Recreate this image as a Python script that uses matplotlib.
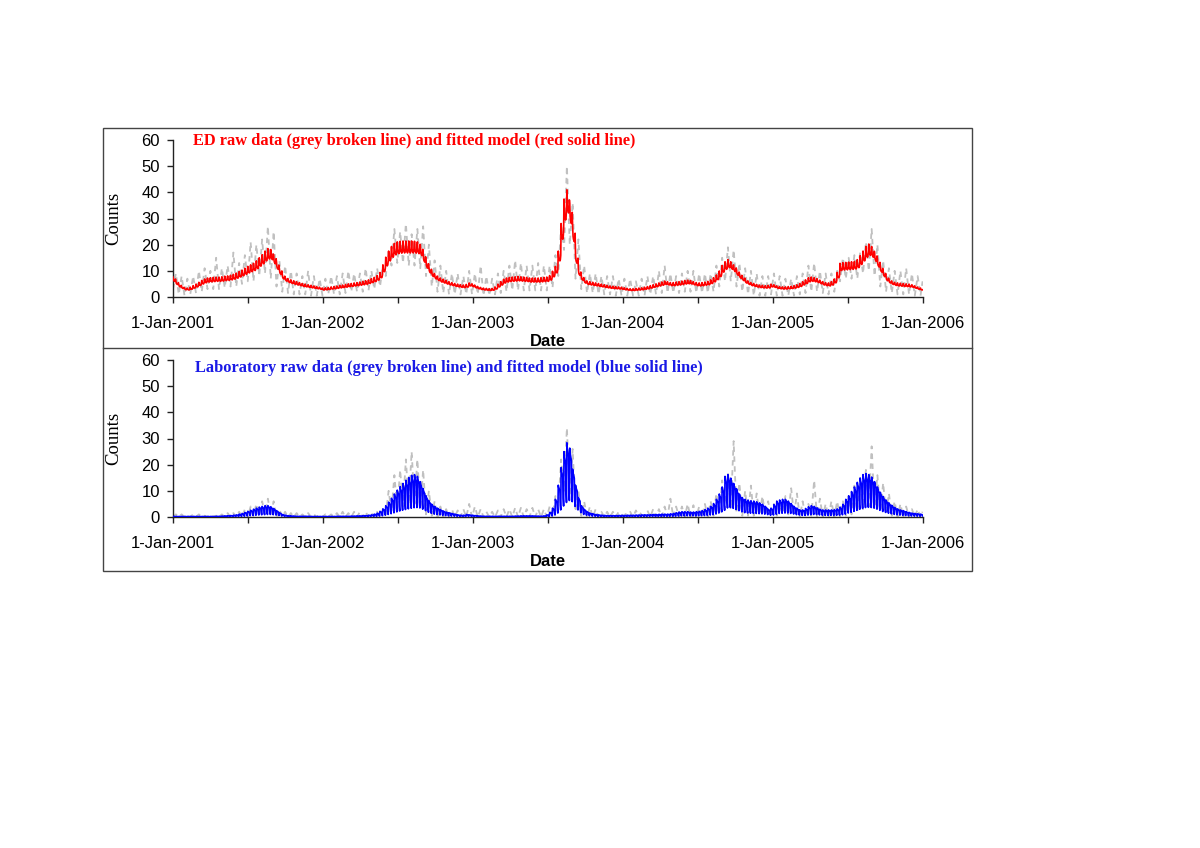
import numpy as np
import matplotlib
matplotlib.use("Agg")
import matplotlib.pyplot as plt
import matplotlib.dates as mdates
from matplotlib.patches import Rectangle
from matplotlib.lines import Line2D

# ---------------- data ----------------
# Fitted model: weekly level (weeks starting Mon 1-Jan-2001) x day-of-week factor (Mon..Sun)
ed_level_2001 = [6.5, 5.2, 4.2, 3.5, 3.0, 2.9, 3.2, 3.7, 4.2, 4.8, 5.4, 5.9, 6.2,
                 6.3, 6.4, 6.5, 6.5, 6.6, 6.8, 6.9, 7.1, 7.4, 7.8, 8.3, 8.8, 9.4,
                 10.0, 10.5, 11.0, 11.8, 12.8, 13.8, 15.0, 15.8, 15.5, 13.8, 11.5, 9.4, 7.5,
                 6.6, 6.0, 5.6, 5.3, 5.0, 4.7, 4.4, 4.2, 4.0, 3.8, 3.6, 3.4, 3.2]
ed_level_2002 = [2.9, 3.0, 3.1, 3.3, 3.4, 3.6, 3.8, 3.9, 4.1, 4.3, 4.4, 4.6, 4.7,
                 4.9, 5.1, 5.3, 5.6, 6.0, 6.4, 7.0, 8.0, 10.5, 13.0, 15.0, 16.5, 17.5,
                 18.0, 18.2, 18.3, 18.3, 18.3, 18.3, 18.2, 18.0, 17.2, 14.5, 12.0, 10.0, 8.5,
                 7.5, 6.8, 6.2, 5.8, 5.4, 5.0, 4.7, 4.4, 4.2, 4.0, 3.9, 4.1, 4.6]
ed_level_2003 = [4.3, 3.8, 3.4, 3.1, 2.9, 2.8, 2.7, 2.8, 3.3, 4.2, 5.0, 5.8, 6.2,
                 6.4, 6.5, 6.6, 6.7, 6.6, 6.5, 6.4, 6.2, 6.2, 6.2, 6.2, 6.3, 6.4,
                 6.5, 7.0, 8.4, 10.0, 15.0, 24.0, 32.0, 35.0, 30.5, 23.0, 14.0, 9.0, 7.0,
                 5.8, 5.2, 5.0, 4.8, 4.6, 4.4, 4.2, 4.0, 3.8, 3.6, 3.5, 3.4, 3.3]
ed_level_2004 = [3.2, 3.0, 2.8, 2.7, 2.7, 2.8, 2.9, 3.0, 3.2, 3.4, 3.7, 4.0, 4.3,
                 4.6, 4.9, 5.2, 5.0, 4.7, 4.7, 4.9, 5.0, 5.2, 5.4, 5.5, 5.4, 5.0,
                 4.7, 4.6, 4.7, 4.9, 5.1, 5.6, 6.3, 7.2, 8.5, 10.3, 11.5, 12.2, 11.5,
                 10.5, 9.0, 7.8, 6.8, 5.8, 5.2, 4.7, 4.4, 4.1, 3.9, 3.8, 3.7, 3.8, 4.2]
ed_level_2005 = [4.0, 3.6, 3.4, 3.3, 3.3, 3.4, 3.5, 3.7, 4.0, 4.4, 5.0, 5.6, 6.3,
                 6.5, 6.3, 6.0, 5.5, 5.0, 4.7, 4.6, 5.0, 5.9, 8.0, 11.0, 11.2, 11.3,
                 11.4, 11.5, 11.6, 12.2, 13.5, 15.0, 16.5, 17.3, 16.5, 14.8, 12.5, 10.3, 8.5,
                 6.8, 5.8, 5.2, 4.8, 4.6, 4.5, 4.4, 4.3, 4.2, 4.0, 3.6, 3.2, 2.9]
ed_dow = [1.17, 1.01, 0.96, 0.94, 0.92, 0.95, 1.06]

lab_level_2001 = [0.15, 0.15, 0.15, 0.15, 0.15, 0.15, 0.15, 0.15, 0.15, 0.15, 0.15, 0.15, 0.15,
                  0.15, 0.15, 0.2, 0.2, 0.25, 0.3, 0.35, 0.4, 0.5, 0.6, 0.8, 1.0, 1.3,
                  1.6, 1.9, 2.2, 2.5, 2.8, 3.0, 3.2, 3.2, 2.9, 2.4, 1.8, 1.2, 0.7,
                  0.5, 0.35, 0.3, 0.25, 0.2, 0.2, 0.2, 0.2, 0.2, 0.15, 0.15, 0.15, 0.15]
lab_level_2002 = [0.15, 0.15, 0.15, 0.15, 0.15, 0.2, 0.2, 0.2, 0.2, 0.2, 0.25, 0.25, 0.3,
                  0.3, 0.35, 0.4, 0.5, 0.6, 0.8, 1.1, 1.6, 2.3, 3.2, 4.2, 5.3, 6.5,
                  7.6, 8.6, 9.5, 10.4, 11.2, 11.8, 12.0, 11.5, 10.0, 8.0, 6.0, 4.6, 3.6,
                  3.0, 2.5, 2.1, 1.7, 1.4, 1.2, 1.0, 0.8, 0.6, 0.5, 0.5, 0.7, 0.6]
lab_level_2003 = [0.5, 0.4, 0.3, 0.25, 0.2, 0.2, 0.2, 0.2, 0.2, 0.2, 0.2, 0.2, 0.2,
                  0.2, 0.2, 0.25, 0.25, 0.3, 0.3, 0.3, 0.3, 0.3, 0.25, 0.25, 0.25, 0.3,
                  0.6, 1.3, 2.5, 5.0, 9.0, 14.0, 18.5, 21.0, 19.5, 13.5, 9.0, 5.5, 3.2,
                  2.2, 1.5, 1.1, 0.9, 0.7, 0.6, 0.5, 0.45, 0.4, 0.4, 0.4, 0.4, 0.45]
lab_level_2004 = [0.45, 0.45, 0.5, 0.5, 0.5, 0.55, 0.55, 0.6, 0.6, 0.6, 0.65, 0.7, 0.7,
                  0.75, 0.8, 0.8, 0.8, 0.9, 1.0, 1.2, 1.4, 1.5, 1.5, 1.5, 1.4, 1.4,
                  1.5, 1.6, 1.8, 2.1, 2.5, 3.0, 3.8, 5.0, 6.5, 8.5, 11.5, 12.0, 11.0,
                  9.5, 8.0, 6.5, 5.5, 5.0, 4.8, 4.6, 4.5, 4.3, 4.0, 3.6, 3.0, 2.2, 2.5]
lab_level_2005 = [3.5, 4.5, 4.8, 5.0, 5.0, 4.5, 3.8, 3.0, 2.5, 2.0, 2.0, 2.4, 2.9,
                  3.2, 3.0, 2.6, 2.2, 2.0, 2.0, 2.0, 2.0, 2.1, 2.3, 2.8, 3.6, 5.0,
                  6.0, 7.2, 8.5, 9.8, 11.0, 12.0, 12.3, 12.0, 11.3, 10.0, 8.5, 7.0, 5.8,
                  4.8, 4.0, 3.3, 2.7, 2.3, 2.0, 1.8, 1.5, 1.3, 1.1, 1.0, 0.9, 0.8]
lab_dow = [1.35, 1.25, 1.2, 1.15, 1.1, 0.5, 0.3]

# Raw data: fortnightly low / high of the daily counts (fortnights from 1-Jan-2001)
ed_raw_hi = [9, 8, 7, 8, 10, 11, 10, 15, 11, 12, 17, 13, 16, 21, 20, 22, 27, 25, 14, 12, 10, 9, 8, 10, 8, 7,
             7, 8, 8, 9, 10, 9, 9, 11, 10, 11, 12, 18, 26, 25, 28, 24, 26, 27, 20, 14, 12, 10, 9, 9, 8, 10,
             9, 12, 8, 7, 9, 10, 12, 14, 13, 12, 12, 13, 12, 12, 16, 28, 50, 36, 22, 12, 9, 9, 8, 8, 8, 7,
             7, 7, 6, 7, 8, 8, 10, 12, 9, 8, 9, 10, 10, 9, 9, 9, 12, 15, 19, 18, 13, 11, 10, 9, 8, 8, 9,
             8, 7, 7, 8, 9, 12, 13, 10, 9, 9, 10, 15, 15, 16, 17, 21, 26, 20, 14, 11, 10, 10, 11, 9, 8, 6]
ed_raw_lo = [3, 1, 0.5, 1, 1.5, 2, 3, 3, 3, 3.5, 4, 4, 5, 6, 6, 8, 9, 7, 4, 2, 1.5, 1, 1, 1, 0.5, 0.5,
             0.5, 1, 1, 1, 1.5, 2, 2, 2, 2.5, 3, 4, 8, 12, 13, 13, 12, 12, 11, 8, 4, 2, 1.5, 1, 1, 1, 1,
             1, 1, 0.5, 0.5, 1, 1.5, 2, 2.5, 2.5, 2.5, 2.5, 2.5, 2.5, 2.5, 3.5, 8, 18, 20, 7, 3, 1.5, 1.5, 1, 1, 1, 0.5,
             0.5, 0.5, 0.5, 0.5, 0.5, 1, 1, 1.5, 1.5, 1.5, 1.5, 2, 2, 1.5, 1.5, 1.5, 2, 4, 6, 6, 4, 2, 1, 0.5, 0.5, 0.5, 1,
             0.5, 0.5, 0.5, 0.5, 1, 1.5, 2, 2, 1.5, 1, 2, 6, 7, 7, 7, 9, 10, 8, 4, 2, 1.5, 1, 1, 1, 0.5, 0.5]
lab_raw_hi = [1, 1, 0.5, 1, 1, 0.5, 1, 0.5, 1, 1.5, 1.5, 2, 3, 4, 5, 6, 7, 6, 3, 2, 1.5, 1.5, 1, 1.5, 1, 1,
              1, 1, 1.5, 2, 1.5, 2, 2, 2, 1.5, 2, 3, 10, 16, 18, 22, 25, 22, 18, 10, 6, 4, 3, 3, 2.5, 3, 5,
              4, 3, 2, 2, 2.5, 3, 3, 3.5, 3.5, 3, 3.5, 3, 3, 4, 8, 22, 34, 26, 10, 6, 4, 3, 2, 2, 2, 2,
              2, 2, 2.5, 2, 2.5, 3, 3, 4, 7, 4, 4, 5, 4.5, 4, 5, 6, 9, 14, 17, 29, 13, 10, 12, 9, 8, 6, 5,
              5, 8, 11, 9, 6, 5, 14, 7, 5, 6, 6, 6, 8, 12, 15, 18, 27, 16, 13, 9, 6, 5, 4, 3, 3, 2]
lab_raw_lo = [0, 0, 0, 0, 0, 0, 0, 0, 0, 0, 0, 0, 0, 0, 0.5, 1, 1, 0.5, 0, 0, 0, 0, 0, 0, 0, 0,
              0, 0, 0, 0, 0, 0, 0, 0, 0, 0, 0, 1, 2, 3, 4, 5, 5, 3, 1, 0.5, 0, 0, 0, 0, 0, 0,
              0, 0, 0, 0, 0, 0, 0, 0, 0, 0, 0, 0, 0, 0, 0.5, 4, 10, 8, 2, 0.5, 0, 0, 0, 0, 0, 0,
              0, 0, 0, 0, 0, 0, 0, 0, 0, 0, 0, 0, 0, 0, 0, 0, 0.5, 1, 3, 3, 1.5, 0.5, 0.5, 0.5, 0.5, 0.5, 0,
              0.5, 1, 1, 0.5, 0, 0, 0.5, 0, 0, 0, 0, 0, 0.5, 1, 2, 3, 4, 3, 2, 1, 0.5, 0, 0, 0, 0, 0]

year_ticks = ["2001-01-01", "2002-01-01", "2003-01-01", "2004-01-01", "2005-01-01", "2006-01-01"]
year_labels = ["1-Jan-2001", "1-Jan-2002", "1-Jan-2003", "1-Jan-2004", "1-Jan-2005", "1-Jan-2006"]
mid_ticks = ["2001-07-02", "2002-07-02", "2003-07-02", "2004-07-02", "2005-07-02"]
y_ticks = [0, 10, 20, 30, 40, 50, 60]
titles = ["ED raw data (grey broken line) and fitted model (red solid line)",
          "Laboratory raw data (grey broken line) and fitted model (blue solid line)"]

# ---------------- build series ----------------
start = np.datetime64("2001-01-01")
end = np.datetime64("2006-01-01")
days = np.arange(start, end, dtype="datetime64[D]")
n_days = len(days)
xd = mdates.date2num(days)


def model_series(levels, dow):
    lv = np.repeat(np.array(levels, dtype=float), 7)[:n_days]
    f = np.tile(np.array(dow, dtype=float), len(levels))[:n_days]
    return lv * f


def raw_series(lo, hi):
    lo = np.asarray(lo, dtype=float)
    hi = np.asarray(hi, dtype=float)
    k = np.arange(len(lo))
    d_lo = np.minimum(14 * k, n_days - 1)
    d_hi = np.minimum(14 * k + 7, n_days - 1)
    dd = np.column_stack([d_lo, d_hi]).ravel()
    vv = np.column_stack([lo, hi]).ravel()
    return mdates.date2num(start + dd.astype("timedelta64[D]")), vv


ed_model = model_series(ed_level_2001 + ed_level_2002 + ed_level_2003 + ed_level_2004 + ed_level_2005, ed_dow)
lab_model = model_series(lab_level_2001 + lab_level_2002 + lab_level_2003 + lab_level_2004 + lab_level_2005, lab_dow)
ed_rx, ed_ry = raw_series(ed_raw_lo, ed_raw_hi)
lab_rx, lab_ry = raw_series(lab_raw_lo, lab_raw_hi)

# ---------------- figure ----------------
W, H = 1200, 848
fig = plt.figure(figsize=(W / 100, H / 100), dpi=100)
fig.patch.set_facecolor("white")

SANS = ["Liberation Sans", "DejaVu Sans"]
SERIF = ["Liberation Serif", "DejaVu Serif"]


def fx(px):
    return px / W


def fy(py):
    return 1 - py / H


# outer frame and separator
fig.patches.append(Rectangle((fx(103), fy(571)), fx(972) - fx(103), fy(128) - fy(571),
                             transform=fig.transFigure, fill=False, edgecolor="#444444", lw=1.0))
fig.lines.append(Line2D([fx(103), fx(972)], [fy(348), fy(348)], transform=fig.transFigure,
                        color="#444444", lw=1.0))

panels = [
    dict(top=140, bottom=297, model=ed_model, rx=ed_rx, ry=ed_ry, color="#FF0000",
         title=titles[0], tcolor="#FF0000", title_x=193, title_y=141, date_y=341),
    dict(top=360, bottom=517, model=lab_model, rx=lab_rx, ry=lab_ry, color="#0000FF",
         title=titles[1], tcolor="#1A1AE6", title_x=195, title_y=368, date_y=562),
]

major = mdates.date2num(np.array(year_ticks, dtype="datetime64[D]"))
minor = mdates.date2num(np.array(mid_ticks, dtype="datetime64[D]"))

for p in panels:
    ax = fig.add_axes([fx(173), fy(p["bottom"]), fx(923) - fx(173), fy(p["top"]) - fy(p["bottom"])])
    ax.set_facecolor("none")
    ax.plot(p["rx"], p["ry"], color="#C0C0C0", lw=1.3, ls=(0, (3, 2.5)), zorder=2)
    ax.plot(xd, p["model"], color=p["color"], lw=1.2, zorder=3)
    ax.set_xlim(major[0], major[-1])
    ax.set_ylim(0, 60)
    ax.set_yticks(y_ticks)
    ax.set_yticklabels([str(v) for v in y_ticks], fontfamily=SANS, fontsize=12)
    ax.set_xticks(major)
    ax.set_xticklabels(year_labels, fontfamily=SANS, fontsize=12)
    ax.set_xticks(minor, minor=True)
    for s in ["top", "right"]:
        ax.spines[s].set_visible(False)
    for s in ["left", "bottom"]:
        ax.spines[s].set_color("#222222")
        ax.spines[s].set_linewidth(1.0)
    ax.tick_params(axis="x", which="both", direction="out", length=4.5, width=1.0,
                   color="#222222", pad=9)
    ax.tick_params(axis="y", which="both", direction="out", length=4.5, width=1.0,
                   color="#222222", pad=5)
    ax.text(0.5, (p["bottom"] - p["date_y"]) / (p["bottom"] - p["top"]), "Date",
            transform=ax.transAxes, ha="center", va="center", fontfamily=SANS,
            fontsize=12, fontweight="bold")
    ax.text((114 - 173) / 750, 0.5, "Counts", transform=ax.transAxes, rotation=90,
            ha="center", va="center", fontfamily=SERIF, fontsize=13.5)
    ax.text((p["title_x"] - 173) / 750, (p["bottom"] - p["title_y"]) / (p["bottom"] - p["top"]),
            p["title"], transform=ax.transAxes, ha="left", va="center", fontfamily=SERIF,
            fontsize=11.8, fontweight="bold", color=p["tcolor"])

fig.savefig("out.png", dpi=100, facecolor="white")
